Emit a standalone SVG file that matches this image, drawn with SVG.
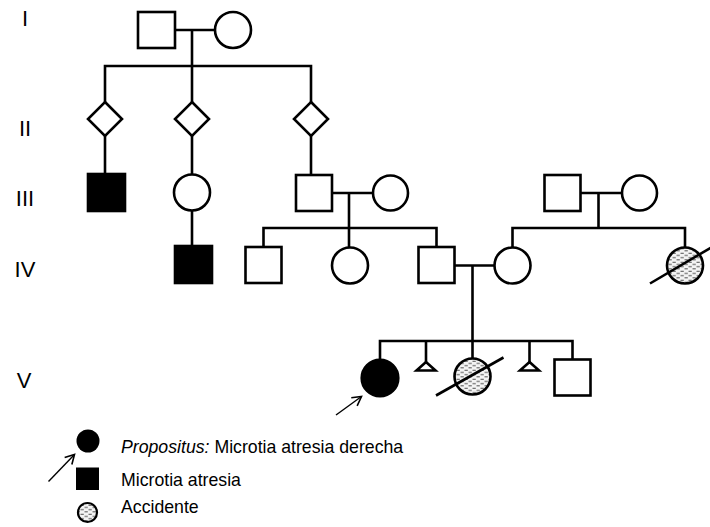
<svg xmlns="http://www.w3.org/2000/svg" width="710" height="527" viewBox="0 0 710 527">
<style>
.n{fill:#fff;stroke:#000;stroke-width:2.6}
.f{fill:#000;stroke:#000;stroke-width:2.6}
.h{fill:url(#dash);stroke:#000;stroke-width:2.6}
.c line,.c polyline{stroke:#000;stroke-width:2.6;fill:none}
.slash{stroke:#000;stroke-width:2.6}
.gen{font-family:"Liberation Sans",Arial,sans-serif;font-size:22px;text-anchor:middle;fill:#000}
.lg{font-family:"Liberation Sans",Arial,sans-serif;font-size:17.7px;fill:#000}
.arr{stroke:#000;stroke-width:1.4;fill:none}
</style>
<defs>
<pattern id="dash" width="8" height="4.5" patternUnits="userSpaceOnUse">
<rect width="8" height="4.5" fill="#f4f4f4"/>
<line x1="0.5" y1="1.2" x2="3.8" y2="1.2" stroke="#333" stroke-width="0.9"/>
<line x1="4.5" y1="3.4" x2="7.8" y2="3.4" stroke="#333" stroke-width="0.9"/>
</pattern>
<marker id="ah" markerWidth="12" markerHeight="12" refX="10" refY="6" orient="auto" markerUnits="userSpaceOnUse">
<path d="M1,1 L10,6 L1,11" fill="none" stroke="#000" stroke-width="1.6"/>
</marker>
</defs>
<rect width="710" height="527" fill="#fff"/>

<g id="gen-labels">
<text class="gen" x="25" y="26">I</text>
<text class="gen" x="25" y="136">II</text>
<text class="gen" x="25" y="206">III</text>
<text class="gen" x="25" y="277">IV</text>
<text class="gen" x="24" y="388">V</text>
</g>

<g id="connectors" class="c">
<line x1="175" y1="30" x2="215" y2="30"/>
<line x1="192" y1="30" x2="192" y2="102"/>
<polyline points="105,102 105,66 311,66 311,102"/>
<line x1="105" y1="136" x2="105" y2="174"/>
<line x1="192" y1="136" x2="192" y2="174.5"/>
<line x1="311" y1="136" x2="311" y2="175"/>
<line x1="192" y1="210.5" x2="192" y2="246"/>
<line x1="332" y1="193" x2="373" y2="193"/>
<line x1="349" y1="193" x2="349" y2="247.5"/>
<polyline points="263.5,247 263.5,228 436.5,228 436.5,247"/>
<line x1="580.5" y1="193" x2="622" y2="193"/>
<line x1="598.5" y1="193" x2="598.5" y2="228"/>
<polyline points="512.5,247.5 512.5,228 685,228 685,247.5"/>
<line x1="454.5" y1="265.5" x2="494.5" y2="265.5"/>
<line x1="472.5" y1="265.5" x2="472.5" y2="358.5"/>
<polyline points="380,359.7 380,341 572.5,341 572.5,359.5"/>
<line x1="426" y1="341" x2="426" y2="362"/>
<line x1="529.5" y1="341" x2="529.5" y2="362"/>
</g>

<g id="I-1"><rect class="n" x="138" y="12" width="37" height="36"/></g>
<g id="I-2"><circle class="n" cx="233" cy="30" r="18"/></g>

<g id="II-1"><polygon class="n" points="105,102 122,119 105,136 88,119"/></g>
<g id="II-2"><polygon class="n" points="192,102 209,119 192,136 175,119"/></g>
<g id="II-3"><polygon class="n" points="311,102 328,119 311,136 294,119"/></g>

<g id="III-1"><rect class="f" x="88" y="174" width="37" height="37"/></g>
<g id="III-2"><circle class="n" cx="192" cy="192.5" r="18"/></g>
<g id="III-3"><rect class="n" x="296" y="175" width="36" height="36"/></g>
<g id="III-4"><circle class="n" cx="390.5" cy="193" r="17.5"/></g>
<g id="III-5"><rect class="n" x="544.5" y="175" width="36" height="36"/></g>
<g id="III-6"><circle class="n" cx="639.5" cy="193" r="17.5"/></g>

<g id="IV-1"><rect class="f" x="175" y="246" width="37" height="37"/></g>
<g id="IV-2"><rect class="n" x="245.5" y="247" width="36" height="36"/></g>
<g id="IV-3"><circle class="n" cx="350" cy="265.5" r="18"/></g>
<g id="IV-4"><rect class="n" x="418.5" y="247" width="36" height="36"/></g>
<g id="IV-5"><circle class="n" cx="512.5" cy="265.5" r="18"/></g>
<g id="IV-6"><circle class="h" cx="685" cy="265.5" r="18"/><line class="slash" x1="650" y1="283.5" x2="712" y2="247"/></g>

<g id="V-1"><circle class="f" cx="380" cy="378" r="18.3"/><line class="arr" x1="336" y1="415" x2="361.5" y2="396.5" marker-end="url(#ah)"/></g>
<g id="V-2"><polygon class="n" points="426,362 435.5,370.5 416.5,370.5"/></g>
<g id="V-3"><circle class="h" cx="472.5" cy="376.5" r="18"/><line class="slash" x1="436" y1="395.5" x2="503.5" y2="357.5"/></g>
<g id="V-4"><polygon class="n" points="529.5,362 539,370.5 520,370.5"/></g>
<g id="V-5"><rect class="n" x="554.5" y="359.5" width="36" height="36"/></g>

<g id="legend">
<circle cx="88" cy="441" r="11.5" fill="#000"/>
<line class="arr" x1="48.5" y1="481.5" x2="74.5" y2="454.5" marker-end="url(#ah)"/>
<text class="lg" x="121" y="452.5"><tspan font-style="italic">Propositus:</tspan> Microtia atresia derecha</text>
<rect x="76" y="467.5" width="23" height="22.5" fill="#000"/>
<text class="lg" x="121" y="486">Microtia atresia</text>
<circle cx="87.5" cy="512.5" r="9.5" fill="url(#dash)" stroke="#000" stroke-width="2.2"/>
<text class="lg" x="121" y="513">Accidente</text>
</g>
</svg>
